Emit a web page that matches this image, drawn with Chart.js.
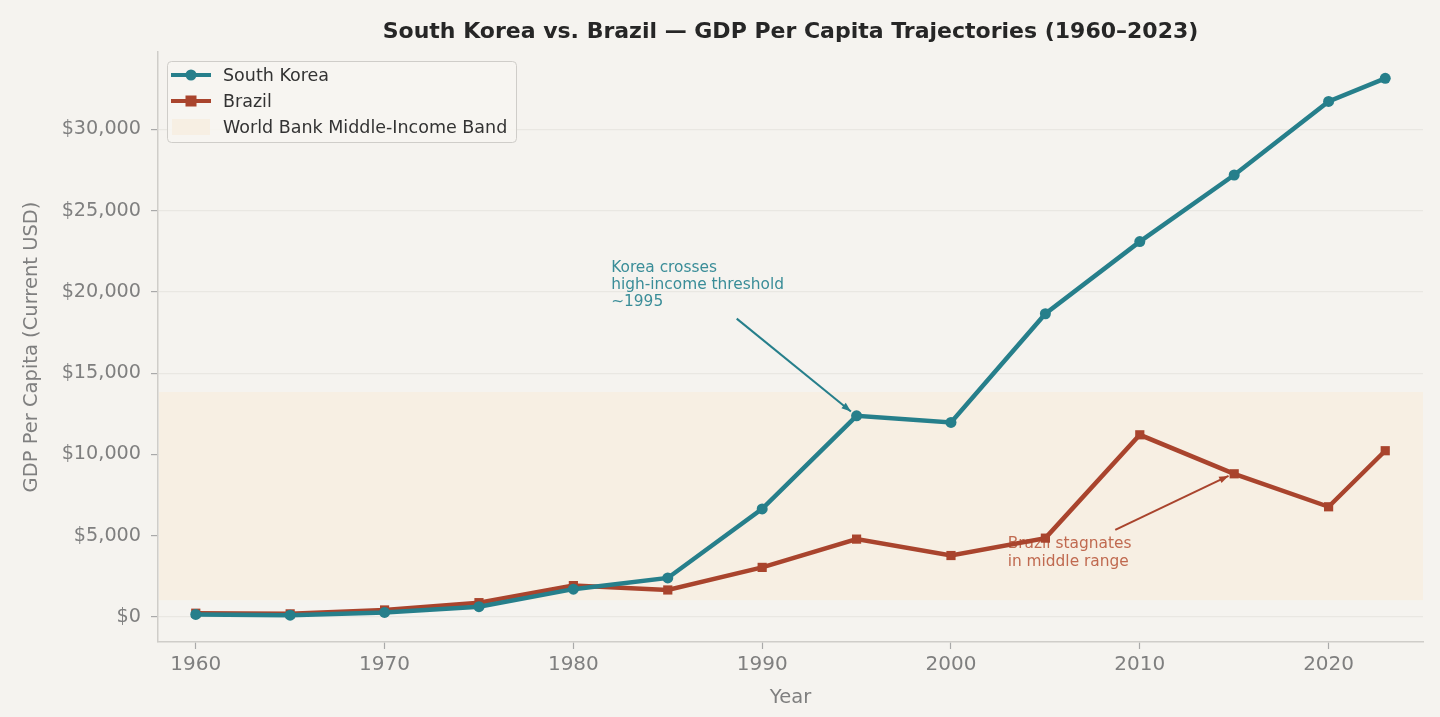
<!DOCTYPE html>
<html>
<head>
<meta charset="utf-8">
<script src="https://cdn.jsdelivr.net/npm/chart.js@4.4.1/dist/chart.umd.min.js"></script>
<style>
    html, body { margin: 0; padding: 0; background: #f5f3ef; }
    #chart { display: block; }
</style>
</head>
<body>
<canvas id="chart" width="1440" height="717"></canvas>
<script>
// data
const years = [1960, 1965, 1970, 1975, 1980, 1985, 1990, 1995, 2000, 2005, 2010, 2015, 2020, 2023];
const koreaGdp = [158, 110, 280, 630, 1710, 2400, 6650, 12380, 11970, 18660, 23100, 27200, 31730, 33150];
const brazilGdp = [230, 190, 430, 880, 1930, 1660, 3050, 4790, 3780, 4850, 11210, 8810, 6780, 10230];
const xTicks = [1960, 1970, 1980, 1990, 2000, 2010, 2020];
const yTicks = [0, 5000, 10000, 15000, 20000, 25000, 30000];
const bandLow = 1036;
const bandHigh = 13845;
const chartTitle = 'South Korea vs. Brazil \u2014 GDP Per Capita Trajectories (1960\u20132023)';

const teal = '#267f8b';
const rust = '#a9442d';
const bandColor = '#f7efe3';
const bg = '#f5f3ef';

function toPoints(vals) {
    return years.map(function (y, i) { return { x: y, y: vals[i] }; });
}

// middle-income band behind the lines
let bandPlugin = {
    id: 'band',
    beforeDatasetsDraw: function (chart) {
        let ctx = chart.ctx;
        let area = chart.chartArea;
        let yScale = chart.scales.y;
        let top = yScale.getPixelForValue(bandHigh);
        let bottom = yScale.getPixelForValue(bandLow);
        ctx.save();
        ctx.fillStyle = bandColor;
        ctx.fillRect(area.left + 1, top, area.right - area.left - 1, bottom - top);
        ctx.restore();
    }
};

function drawArrow(ctx, x1, y1, x2, y2, color) {
    let ang = Math.atan2(y2 - y1, x2 - x1);
    ctx.strokeStyle = color;
    ctx.fillStyle = color;
    ctx.lineWidth = 2;
    ctx.beginPath();
    ctx.moveTo(x1, y1);
    ctx.lineTo(x2, y2);
    ctx.stroke();
    ctx.beginPath();
    ctx.moveTo(x2, y2);
    ctx.lineTo(x2 - 10 * Math.cos(ang - 0.35), y2 - 10 * Math.sin(ang - 0.35));
    ctx.lineTo(x2 - 10 * Math.cos(ang + 0.35), y2 - 10 * Math.sin(ang + 0.35));
    ctx.closePath();
    ctx.fill();
}

// annotations, drawn under the lines like in the reference
let notesPlugin = {
    id: 'notes',
    beforeDatasetsDraw: function (chart) {
        let ctx = chart.ctx;
        let xs = chart.scales.x;
        let ys = chart.scales.y;
        ctx.save();
        ctx.font = '15.4px "DejaVu Sans"';
        ctx.textBaseline = 'middle';
        ctx.textAlign = 'left';

        ctx.fillStyle = '#3a8d98';
        let kx = xs.getPixelForValue(1982);
        let ky = ys.getPixelForValue(21460);
        ['Korea crosses', 'high-income threshold', '~1995'].forEach(function (t, i) {
            ctx.fillText(t, kx, ky + i * 17);
        });
        drawArrow(ctx, xs.getPixelForValue(1988.65), ys.getPixelForValue(18360),
            xs.getPixelForValue(1994.7), ys.getPixelForValue(12650), teal);

        ctx.fillStyle = '#c06a50';
        let bx = xs.getPixelForValue(2003);
        let by = ys.getPixelForValue(4460);
        ['Brazil stagnates', 'in middle range'].forEach(function (t, i) {
            ctx.fillText(t, bx, by + i * 18);
        });
        drawArrow(ctx, xs.getPixelForValue(2008.7), ys.getPixelForValue(5360),
            xs.getPixelForValue(2014.7), ys.getPixelForValue(8680), rust);
        ctx.restore();
    }
};

// legend box inside the plot, top left
let legendPlugin = {
    id: 'boxLegend',
    afterDatasetsDraw: function (chart) {
        let ctx = chart.ctx;
        let area = chart.chartArea;
        let x = area.left + 9;
        let y = area.top + 9;
        ctx.save();
        ctx.fillStyle = 'rgba(247,245,241,0.9)';
        ctx.strokeStyle = '#cfcdc9';
        ctx.lineWidth = 1;
        ctx.beginPath();
        ctx.roundRect(x + 0.5, y + 0.5, 349, 81, 4);
        ctx.fill();
        ctx.stroke();

        ctx.font = '17.5px "DejaVu Sans"';
        ctx.textBaseline = 'middle';
        let items = chart.data.datasets.map(function (ds) {
            return { label: ds.label, color: ds.borderColor, style: ds.pointStyle };
        });
        items.push({ label: 'World Bank Middle-Income Band', color: bandColor, style: 'band' });
        items.forEach(function (it, i) {
            let cy = y + 14 + i * 26;
            if (it.style === 'band') {
                ctx.fillStyle = it.color;
                ctx.fillRect(x + 5, cy - 8, 38, 16);
            } else {
                ctx.strokeStyle = it.color;
                ctx.fillStyle = it.color;
                ctx.lineWidth = 4;
                ctx.beginPath();
                ctx.moveTo(x + 4, cy);
                ctx.lineTo(x + 44, cy);
                ctx.stroke();
                ctx.beginPath();
                if (it.style === 'rect') {
                    ctx.fillRect(x + 24 - 5.5, cy - 5.5, 11, 11);
                } else {
                    ctx.arc(x + 24, cy, 5.5, 0, Math.PI * 2);
                    ctx.fill();
                }
            }
            ctx.fillStyle = '#333333';
            ctx.fillText(it.label, x + 56, cy + 1);
        });
        ctx.restore();
    }
};

// background + title centred over the plot area
let framePlugin = {
    id: 'frame',
    beforeDraw: function (chart) {
        let ctx = chart.ctx;
        ctx.save();
        ctx.fillStyle = bg;
        ctx.fillRect(0, 0, chart.width, chart.height);
        ctx.restore();
    },
    afterDraw: function (chart) {
        let ctx = chart.ctx;
        let area = chart.chartArea;
        ctx.save();
        ctx.font = 'bold 22px "DejaVu Sans"';
        ctx.fillStyle = '#262626';
        ctx.textAlign = 'center';
        ctx.textBaseline = 'middle';
        ctx.fillText(chartTitle, (area.left + area.right) / 2, 32);
        ctx.restore();
    }
};

Chart.defaults.font.family = '"DejaVu Sans", sans-serif';

let ctx = document.getElementById('chart');
new Chart(ctx, {
    type: 'line',
    data: {
        datasets: [
            {
                label: 'South Korea',
                data: toPoints(koreaGdp),
                borderColor: teal,
                backgroundColor: teal,
                borderWidth: 4.5,
                pointStyle: 'circle',
                pointRadius: 5.5,
                pointBorderWidth: 0,
                tension: 0
            },
            {
                label: 'Brazil',
                data: toPoints(brazilGdp),
                borderColor: rust,
                backgroundColor: rust,
                borderWidth: 4.5,
                pointStyle: 'rect',
                pointRadius: 6.5,
                pointBorderWidth: 0,
                tension: 0
            }
        ]
    },
    options: {
        responsive: false,
        devicePixelRatio: 1,
        animation: false,
        layout: { padding: { left: 0, right: 17, top: 52, bottom: 0 } },
        plugins: {
            legend: { display: false },
            tooltip: { enabled: false },
            title: { display: false }
        },
        scales: {
            x: {
                type: 'linear',
                min: 1958,
                max: 2025,
                afterBuildTicks: function (axis) {
                    axis.ticks = xTicks.map(function (v) { return { value: v }; });
                },
                afterFit: function (axis) { axis.height = 75; },
                ticks: {
                    color: '#7f7f7f',
                    font: { size: 20 },
                    padding: 4,
                    maxRotation: 0,
                    callback: function (v) { return String(v); }
                },
                grid: {
                    display: true,
                    drawOnChartArea: false,
                    tickLength: 7,
                    tickColor: '#a9a9a9',
                    tickWidth: 1.2
                },
                border: { color: '#cfcdc9', width: 1.5 },
                title: {
                    display: true,
                    text: 'Year',
                    color: '#7f7f7f',
                    font: { size: 19.5 },
                    padding: { top: 0, bottom: 7 }
                }
            },
            y: {
                min: -1542,
                max: 34770,
                afterBuildTicks: function (axis) {
                    axis.ticks = yTicks.map(function (v) { return { value: v }; });
                },
                afterFit: function (axis) { axis.width = 158; },
                ticks: {
                    color: '#7f7f7f',
                    font: { size: 19.2 },
                    padding: 10,
                    callback: function (v) { return '$' + v.toLocaleString('en-US'); }
                },
                grid: {
                    color: '#e9e7e2',
                    lineWidth: 1.2,
                    tickLength: 7,
                    tickColor: '#a9a9a9',
                    tickWidth: 1.2
                },
                border: { color: '#cfcdc9', width: 1.5 },
                title: {
                    display: true,
                    text: 'GDP Per Capita (Current USD)',
                    color: '#7f7f7f',
                    font: { size: 19.5 },
                    padding: { top: 20, bottom: 0 }
                }
            }
        }
    },
    plugins: [framePlugin, bandPlugin, notesPlugin, legendPlugin]
});
</script>
</body>
</html>
